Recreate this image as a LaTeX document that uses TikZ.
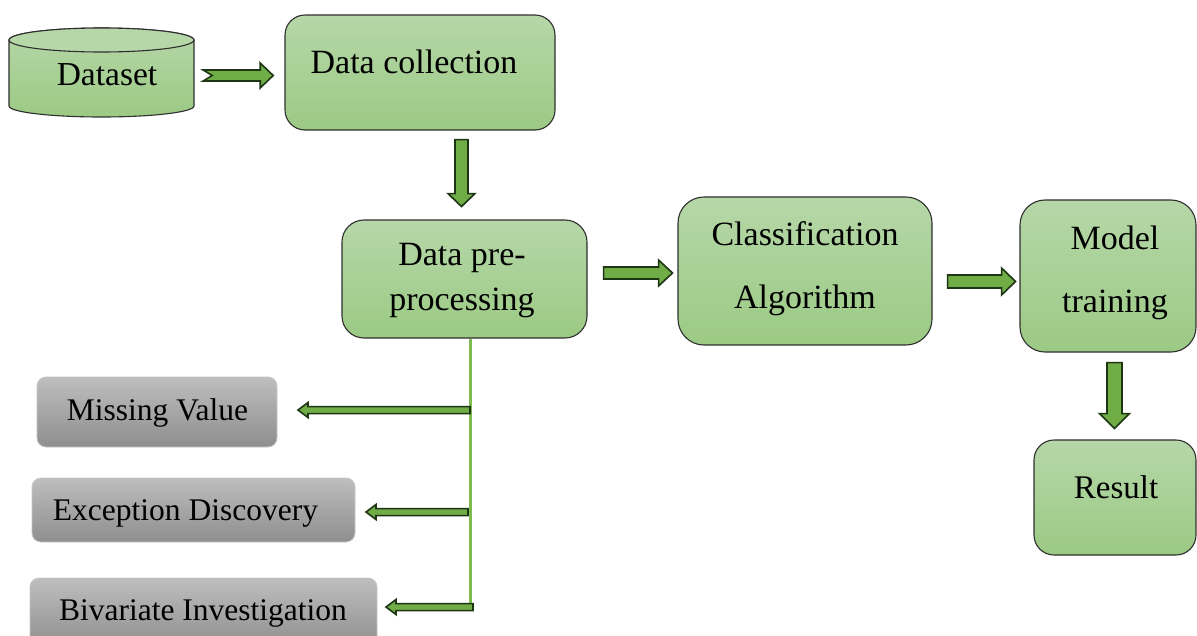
\documentclass[tikz,border=0pt]{standalone}
\usepackage{fontspec}
\setmainfont{Liberation Serif}
\usetikzlibrary{calc}
\definecolor{gtop}{HTML}{B6D7A8}
\definecolor{gbot}{HTML}{9BCA84}
\definecolor{ytop}{HTML}{BEBEBE}
\definecolor{ybot}{HTML}{8E8E8E}
\definecolor{agreen}{HTML}{70AD47}
\definecolor{lgreen}{HTML}{7DBA50}
\definecolor{aline}{HTML}{1E3514}
\definecolor{bline}{HTML}{2F2F2F}
\newcommand{\barrow}[6]{%
  \draw[blkarrow, shift={#1}, rotate=#2] (0,-#4) -- ({#3-#6},-#4) -- ({#3-#6},-#5) -- (#3,0) -- ({#3-#6},#5) -- ({#3-#6},#4) -- (0,#4) -- cycle;}
\tikzset{
  blkarrow/.style={fill=agreen, draw=aline, line width=1.6pt, line join=miter},
  gbox/.style={rectangle, rounded corners=22pt, top color=gtop, bottom color=gbot, draw=bline, line width=1.1pt, inner sep=0pt},
  ybox/.style={rectangle, rounded corners=9pt, top color=ytop, bottom color=ybot, draw=gray!45, line width=0.8pt, inner sep=0pt},
  gtxt/.style={inner sep=0pt, anchor=base, font=\fontsize{34}{40}\selectfont},
  ytxt/.style={inner sep=0pt, anchor=base, font=\fontsize{31.5}{38}\selectfont},
}
\begin{document}
\begin{tikzpicture}[x=1pt, y=-1pt]
\clip (0,0) rectangle (1197,635);
\fill[white] (0,0) rectangle (1197,635);
% dataset cylinder
\node[inner sep=0pt, minimum width=185pt, minimum height=89pt] (ds) at (101.5,72.5) {};
\path[top color=gtop, bottom color=gbot, draw=bline, line width=1.1pt]
  (9,40) -- (9,106) arc[start angle=180, end angle=360, x radius=92.5pt, y radius=11pt]
  -- (194,40) arc[start angle=0, end angle=180, x radius=92.5pt, y radius=12pt] -- cycle;
\draw[fill=gtop, draw=bline, line width=1.1pt] (101.5,40) ellipse [x radius=92.5pt, y radius=12pt];
\node[gtxt, font=\fontsize{33.5}{40}\selectfont] (dst) at (107,85) {Dataset};
% green boxes
\node[gbox, rounded corners=20pt, minimum width=270pt, minimum height=115pt] (dc) at (420,72.5) {};
\node[gtxt] (dct) at (414,73) {Data collection};
\node[gbox, minimum width=245pt, minimum height=118pt] (pp) at (464.5,279) {};
\node[gtxt] (ppt1) at (462,265) {Data pre-};
\node[gtxt] (ppt2) at (462,310) {processing};
\node[gbox, rounded corners=26pt, minimum width=254pt, minimum height=148pt] (ca) at (805,271) {};
\node[gtxt] (cat1) at (805,245) {Classification};
\node[gtxt] (cat2) at (805,308) {Algorithm};
\node[gbox, rounded corners=25pt, minimum width=176pt, minimum height=152pt] (mt) at (1108,276) {};
\node[gtxt] (mtt1) at (1115,249) {Model};
\node[gtxt] (mtt2) at (1115,312) {training};
\node[gbox, rounded corners=20pt, minimum width=162pt, minimum height=115pt] (rs) at (1115,497.5) {};
\node[gtxt, font=\fontsize{33}{40}\selectfont] (rst) at (1116,498) {Result};
% gray boxes
\node[ybox, minimum width=240pt, minimum height=70pt] (mv) at (157,412) {};
\node[ytxt] (mvt) at (157.5,420) {Missing Value};
\node[ybox, minimum width=323pt, minimum height=64pt] (ed) at (193.5,510) {};
\node[ytxt] (edt) at (185.5,520) {Exception Discovery};
\node[ybox, minimum width=347pt, minimum height=70pt] (bi) at (203.5,613) {};
\node[ytxt] (bit) at (203,620) {Bivariate Investigation};
% branch line
\coordinate (br0) at ($(pp.south)+(6,0)$);
\coordinate (br1) at (470.5,608);
\draw[lgreen, line width=2.3pt] (br0) -- (br1);
% block arrows
\draw[blkarrow, shift={($(ds.east)+(9,3)$)}] (0,-5.5) -- (57,-5.5) -- (57,-12.5) -- (70,0) -- (57,12.5) -- (57,5.5) -- (0,5.5) -- (9,0) -- cycle;
\barrow{($(dc.south)+(41.5,9)$)}{-90}{67}{6.5}{13.5}{13}
\barrow{($(pp.east)+(16,-6)$)}{0}{69}{6}{13}{14}
\barrow{($(ca.east)+(15,10.5)$)}{0}{68}{6.5}{13.5}{14}
\barrow{($(mt.south)+(6.5,10)$)}{-90}{66}{7.5}{15}{15}
\barrow{($(br0)+(-0.5,71.5)$)}{180}{172}{3.5}{7.5}{10}
\barrow{($(br0)+(-2.5,173.5)$)}{180}{102}{3.5}{7.5}{10}
\barrow{($(br0)+(2.5,268.5)$)}{180}{87}{3.5}{7.5}{10}
\end{tikzpicture}
\end{document}
